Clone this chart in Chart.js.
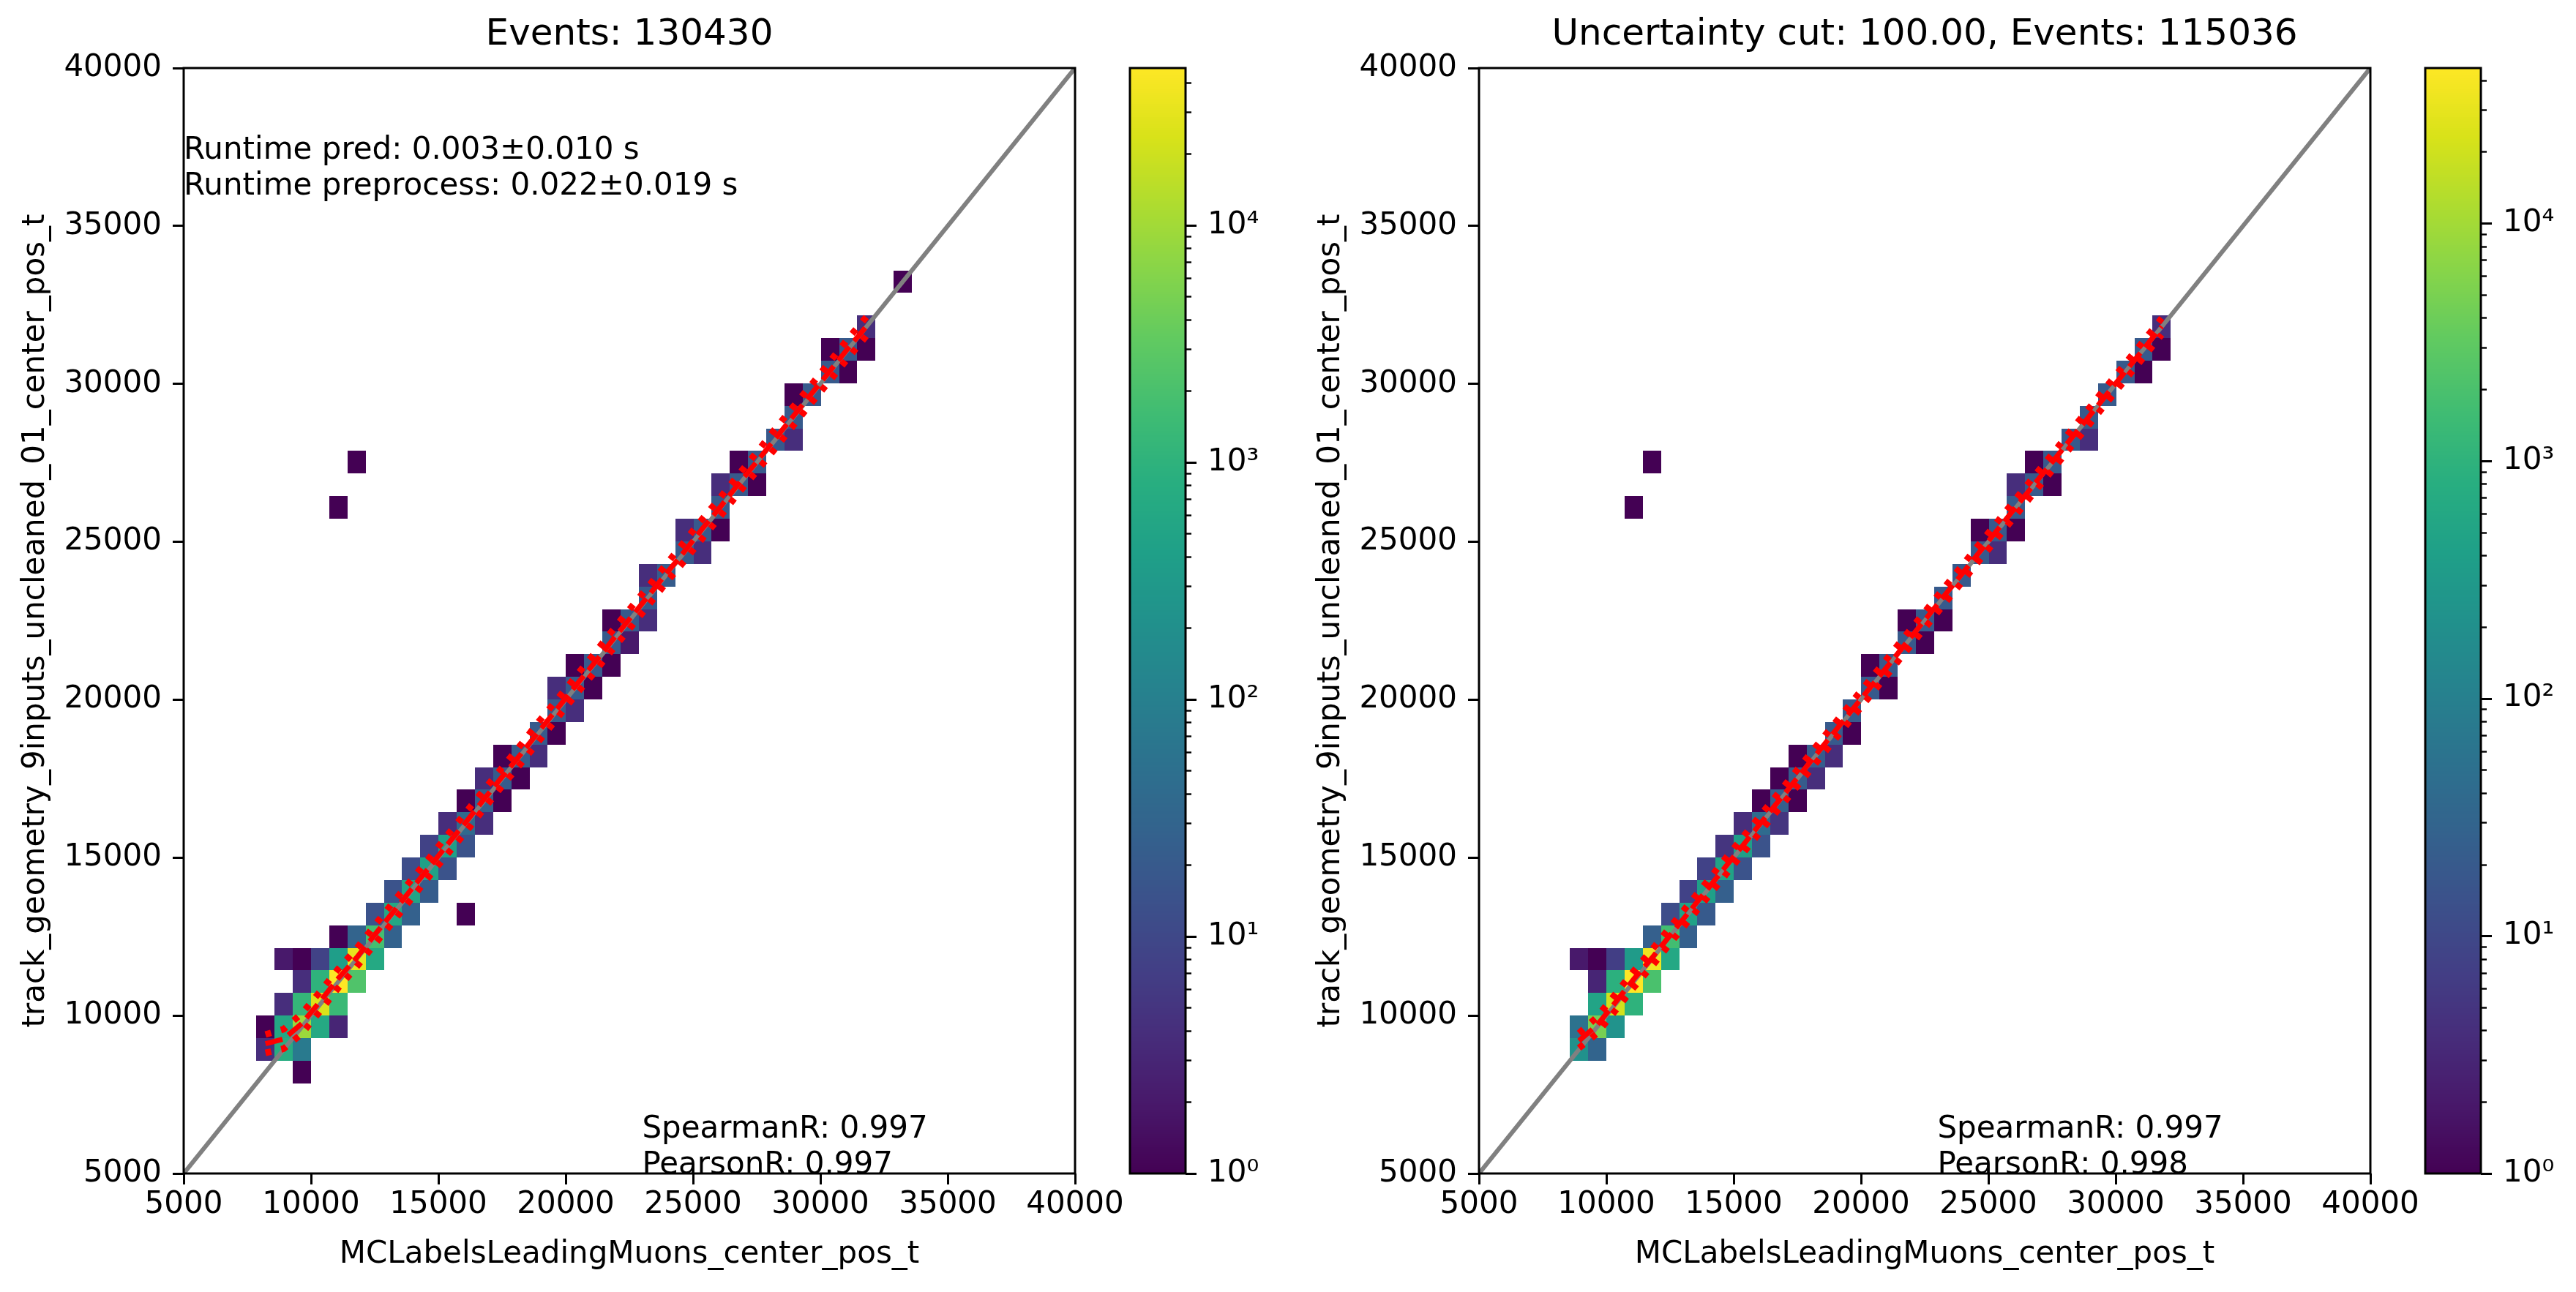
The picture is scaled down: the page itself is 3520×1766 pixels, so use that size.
<!DOCTYPE html>
<html>
<head>
<meta charset="utf-8">
<script src="https://cdn.jsdelivr.net/npm/chart.js@4.4.1/dist/chart.umd.min.js"></script>
<style>
  html, body { margin: 0; padding: 0; background: #fff; }
  #wrap { position: relative; width: 3520px; height: 1766px; overflow: hidden; background: #fff; }
  canvas { position: absolute; top: 0; }
</style>
</head>
<body>
<div id="wrap">
  <canvas id="leftHist" width="1540" height="1766" style="left:0px"></canvas>
  <canvas id="leftBar" width="300" height="1766" style="left:1500px"></canvas>
  <canvas id="rightHist" width="1540" height="1766" style="left:1770px"></canvas>
  <canvas id="rightBar" width="250" height="1766" style="left:3270px"></canvas>
</div>
<script>
// histogram binning (same edges on both axes)
const binStart = 7855;
const binWidth = 715;

const axisTickValues = [5000, 10000, 15000, 20000, 25000, 30000, 35000, 40000];
const colorbarTickValues = [1, 10, 100, 1000, 10000];
const colorbarTickLabels = ['10⁰', '10¹', '10²', '10³', '10⁴'];

const leftTitle = 'Events: 130430';
const rightTitle = 'Uncertainty cut: 100.00, Events: 115036';
const xLabel = 'MCLabelsLeadingMuons_center_pos_t';
const yLabel = 'track_geometry_9inputs_uncleaned_01_center_pos_t';
const leftRuntimeText = ['Runtime pred: 0.003±0.010 s', 'Runtime preprocess: 0.022±0.019 s'];
const leftStatsText = ['SpearmanR: 0.997', 'PearsonR: 0.997'];
const rightStatsText = ['SpearmanR: 0.997', 'PearsonR: 0.998'];

// left histogram: bin index x, bin index y, count
const leftCellI = [
  2,  0, 1, 2,  0, 1, 2, 3, 4,  1, 2, 3, 4,  2, 3, 4, 5,  1, 2, 3, 4, 5, 6,
  4, 5, 6, 7,  6, 7, 8, 11,  7, 8, 9,  8, 9, 10,  9, 10, 11,  10, 11, 12,
  11, 12, 13,  12, 13, 14,  13, 14, 15,  15, 16,  16, 17,  16, 17, 18,  17, 18, 19,
  19, 20,  19, 20, 21,  21,  21, 22,  23, 24,  23, 24, 25,  25,  25, 26, 27,
  26, 27,  28, 29,  29,  29, 30,  31, 32,  31, 32, 33,  33,  35,  4,  5
];
const leftCellJ = [
  0,  1, 1, 1,  2, 2, 2, 2, 2,  3, 3, 3, 3,  4, 4, 4, 4,  5, 5, 5, 5, 5, 5,
  6, 6, 6, 6,  7, 7, 7, 7,  8, 8, 8,  9, 9, 9,  10, 10, 10,  11, 11, 11,
  12, 12, 12,  13, 13, 13,  14, 14, 14,  15, 15,  16, 16,  17, 17, 17,  18, 18, 18,
  19, 19,  20, 20, 20,  21,  22, 22,  23, 23,  24, 24, 24,  25,  26, 26, 26,
  27, 27,  28, 28,  29,  30, 30,  31, 31,  32, 32, 32,  33,  35,  25,  27
];
const leftCellCount = [
  1,  4, 750, 80,  1, 600, 9000, 650, 3,  4, 1200, 25000, 1400,  4, 1000, 46000, 2300,  2, 1, 8, 380, 31000, 650,
  1, 30, 1800, 28,  15, 600, 26, 1,  15, 500, 22,  12, 450, 15,  8, 420, 15,  4, 40, 4,
  1, 25, 1,  4, 22, 1,  1, 22, 4,  20, 1,  20, 4,  4, 20, 1,  1, 20, 1,
  20, 2,  1, 20, 4,  20,  4, 22,  20, 4,  4, 20, 1,  20,  4, 20, 1,
  1, 20,  20, 4,  20,  1, 20,  20, 1,  1, 20, 1,  4,  1,  1,  1
];
const leftColorMax = 46000;

// right histogram (after uncertainty cut)
const rightCellI = [
  1, 2,  1, 2, 3,  2, 3, 4,  2, 3, 4, 5,  1, 2, 3, 4, 5, 6,  5, 6, 7,  6, 7, 8,
  7, 8, 9,  8, 9, 10,  9, 10, 11,  10, 11, 12,  11, 12, 13,  12, 13, 14,  13, 14, 15,
  15, 16,  16,  17, 18,  17, 18,  19, 20,  19, 20, 21,  21,  22,  23, 24,  23, 24, 25,
  25,  25, 26, 27,  26, 27,  28, 29,  29,  30,  31, 32,  32, 33,  33,  4,  5
];
const rightCellJ = [
  1, 1,  2, 2, 2,  3, 3, 3,  4, 4, 4, 4,  5, 5, 5, 5, 5, 5,  6, 6, 6,  7, 7, 7,
  8, 8, 8,  9, 9, 9,  10, 10, 10,  11, 11, 11,  12, 12, 12,  13, 13, 13,  14, 14, 14,
  15, 15,  16,  17, 17,  18, 18,  19, 19,  20, 20, 20,  21,  22,  23, 23,  24, 24, 24,
  25,  26, 26, 26,  27, 27,  28, 28,  29,  30,  31, 31,  32, 32,  33,  25,  27
];
const rightCellCount = [
  214, 30,  56, 4800, 230,  500, 21000, 1000,  3, 900, 45000, 2000,  2, 1, 7, 330, 35000, 600,  25, 1700, 25,  12, 450, 20,
  8, 420, 25,  8, 480, 15,  5, 400, 15,  4, 40, 5,  1, 25, 1,  1, 22, 4,  1, 22, 4,
  20, 1,  20,  20, 1,  1, 20,  20, 1,  1, 20, 1,  20,  20,  20, 4,  1, 20, 1,
  20,  4, 20, 1,  1, 20,  20, 4,  20,  20,  20, 1,  20, 1,  4,  1,  1
];
const rightColorMax = 45000;

// profile of the prediction per true-value bin
const leftProfileX = [8212, 8927, 9642, 10357, 11072, 11787, 12502, 13217, 13932, 14647, 15362, 16077, 16792, 17507, 18222, 18937, 19652,
  20367, 21082, 21797, 22512, 23227, 23942, 24657, 25372, 26087, 26802, 27517, 28232, 28947, 29662, 30377, 31092, 31807];
const leftProfileMean = [9110, 9260, 9750, 10450, 11180, 11830, 12560, 13270, 13990, 14700, 15420, 16120, 16850, 17560, 18260, 18990, 19700,
  20420, 21120, 21850, 22560, 23270, 23990, 24690, 25420, 26120, 26850, 27550, 28270, 28990, 29700, 30410, 31130, 31820];
const leftProfileUpper = [9400, 9570, 10070, 10760, 11480, 12120, 12860, 13580, 14290, 14990, 15720, 16430, 17150, 17850, 18560, 19300, 20000,
  20710, 21420, 22150, 22870, 23570, 24280, 25000, 25730, 26420, 27140, 27850, 28580, 29290, 29990, 30710, 31440, 32120];
const leftProfileLower = [8820, 8950, 9430, 10140, 10880, 11540, 12260, 12960, 13690, 14410, 15120, 15810, 16550, 17270, 17960, 18680, 19400,
  20130, 20820, 21550, 22250, 22970, 23700, 24390, 25110, 25820, 26560, 27250, 27960, 28690, 29410, 30110, 30820, 31520];

const rightProfileX = [8927, 9642, 10357, 11072, 11787, 12502, 13217, 13932, 14647, 15362, 16077, 16792, 17507, 18222, 18937, 19652,
  20367, 21082, 21797, 22512, 23227, 23942, 24657, 25372, 26087, 26802, 27517, 28232, 28947, 29662, 30377, 31092, 31807];
const rightProfileMean = [9200, 9700, 10420, 11150, 11820, 12540, 13250, 13960, 14680, 15390, 16110, 16820, 17530, 18250, 18960, 19680,
  20390, 21100, 21820, 22530, 23250, 23960, 24680, 25390, 26110, 26820, 27530, 28250, 28960, 29680, 30390, 31100, 31820];
const rightProfileUpper = [9440, 9960, 10680, 11410, 12080, 12800, 13510, 14220, 14940, 15650, 16370, 17080, 17790, 18510, 19220, 19940,
  20650, 21360, 22080, 22790, 23510, 24220, 24940, 25650, 26370, 27080, 27790, 28510, 29220, 29940, 30650, 31360, 32080];
const rightProfileLower = [8970, 9440, 10160, 10890, 11560, 12280, 12990, 13700, 14420, 15130, 15850, 16560, 17270, 17990, 18700, 19420,
  20130, 20840, 21560, 22270, 22990, 23700, 24420, 25130, 25850, 26560, 27270, 27990, 28700, 29420, 30130, 30840, 31560];

const FONT = 'DejaVu Sans';
Chart.defaults.font.family = FONT;
Chart.defaults.color = '#000';
Chart.defaults.animation = false;

const viridisStops = [[68,1,84],[72,24,106],[71,45,123],[66,64,134],[59,82,139],[51,99,141],[44,114,142],[38,130,142],
  [33,145,140],[31,160,136],[40,174,128],[63,188,115],[94,201,98],[132,212,75],[173,220,48],[216,226,25],[253,231,37]];

function viridis(t) {
  t = Math.min(1, Math.max(0, t));
  const p = t * (viridisStops.length - 1);
  const k = Math.min(Math.floor(p), viridisStops.length - 2);
  const f = p - k;
  const a = viridisStops[k], b = viridisStops[k + 1];
  const c = a.map((v, n) => Math.round(v + (b[n] - v) * f));
  return `rgb(${c[0]},${c[1]},${c[2]})`;
}

function xy(xs, ys) {
  return xs.map((x, k) => ({x: x, y: ys[k]}));
}

const heatmapPlugin = {
  id: 'heatmap',
  beforeDatasetsDraw(chart, args, opts) {
    const {ctx, chartArea} = chart;
    const xs = chart.scales.x, ys = chart.scales.y;
    ctx.save();
    ctx.beginPath();
    ctx.rect(chartArea.left, chartArea.top, chartArea.width, chartArea.height);
    ctx.clip();
    const top = Math.log10(opts.vmax);
    opts.cellI.forEach((bi, k) => {
      const x0 = binStart + bi * binWidth;
      const y0 = binStart + opts.cellJ[k] * binWidth;
      const px0 = Math.round(xs.getPixelForValue(x0));
      const px1 = Math.round(xs.getPixelForValue(x0 + binWidth));
      const py0 = Math.round(ys.getPixelForValue(y0));
      const py1 = Math.round(ys.getPixelForValue(y0 + binWidth));
      ctx.fillStyle = viridis(Math.log10(opts.counts[k]) / top);
      ctx.fillRect(px0, py1, px1 - px0, py0 - py1);
    });
    ctx.restore();
  },
  afterDatasetsDraw(chart, args, opts) {
    const {ctx, chartArea} = chart;
    const xs = chart.scales.x, ys = chart.scales.y;
    ctx.save();
    ctx.strokeStyle = '#000';
    ctx.lineWidth = 3;
    ctx.strokeRect(chartArea.left, chartArea.top, chartArea.width, chartArea.height);
    ctx.fillStyle = '#000';
    ctx.font = '42px "' + FONT + '"';
    ctx.textAlign = 'left';
    ctx.textBaseline = 'alphabetic';
    const lh = 49;
    if (opts.topText) {
      const tx = xs.getPixelForValue(opts.topTextAt[0]);
      const ty = ys.getPixelForValue(opts.topTextAt[1]);
      opts.topText.forEach((s, k) => ctx.fillText(s, tx, ty - (opts.topText.length - 1 - k) * lh));
    }
    const bx = xs.getPixelForValue(opts.bottomTextAt[0]);
    const by = ys.getPixelForValue(opts.bottomTextAt[1]);
    opts.bottomText.forEach((s, k) => ctx.fillText(s, bx, by - (opts.bottomText.length - 1 - k) * lh));
    ctx.restore();
  }
};

function histChart(id, title, cellI, cellJ, counts, vmax, profX, mean, upper, lower, topText, bottomText) {
  const ctx = document.getElementById(id).getContext('2d');
  return new Chart(ctx, {
    type: 'scatter',
    data: {
      datasets: [
        {
          data: xy(profX, mean), showLine: true, borderColor: 'red', borderWidth: 7,
          borderDash: [24, 10], pointRadius: 0, tension: 0, order: 1
        },
        {
          data: xy(profX, upper), showLine: true, borderColor: 'red', borderWidth: 9,
          borderDash: [8, 14], borderCapStyle: 'butt', pointRadius: 0, tension: 0, order: 2
        },
        {
          data: xy(profX, lower), showLine: true, borderColor: 'red', borderWidth: 9,
          borderDash: [8, 14], borderCapStyle: 'butt', pointRadius: 0, tension: 0, order: 2
        },
        {
          data: xy([5000, 40000], [5000, 40000]), showLine: true, borderColor: '#808080', borderWidth: 6,
          pointRadius: 0, order: 5
        }
      ]
    },
    options: {
      responsive: false,
      animation: false,
      layout: { padding: { left: 0, top: 0, right: 71, bottom: 0 } },
      plugins: {
        legend: { display: false },
        tooltip: { enabled: false },
        title: {
          display: true, text: title, fullSize: false,
          font: { size: 50, weight: 'normal', family: FONT },
          padding: { top: 18, bottom: 15 }
        },
        heatmap: {
          cellI: cellI, cellJ: cellJ, counts: counts, vmax: vmax,
          topText: topText, topTextAt: [5000, 36000],
          bottomText: bottomText, bottomTextAt: [23000, 5000]
        }
      },
      scales: {
        x: {
          type: 'linear', min: 5000, max: 40000,
          afterBuildTicks: s => { s.ticks = axisTickValues.map(v => ({value: v})); },
          afterFit: s => { s.height = 162; s.paddingLeft = 0; s.paddingRight = 0; },
          ticks: { font: { size: 42 }, padding: 3, maxRotation: 0, autoSkip: false, callback: v => String(v) },
          grid: { drawOnChartArea: false, drawTicks: true, tickLength: 15, tickWidth: 3, tickColor: '#000' },
          border: { display: false },
          title: { display: true, text: xLabel, font: { size: 42 }, padding: { top: 0, bottom: 26 } }
        },
        y: {
          type: 'linear', min: 5000, max: 40000,
          afterBuildTicks: s => { s.ticks = axisTickValues.map(v => ({value: v})); },
          afterFit: s => { s.width = 251; s.paddingTop = 0; s.paddingBottom = 0; },
          ticks: { font: { size: 42 }, padding: 15, autoSkip: false, callback: v => String(v) },
          grid: { drawOnChartArea: false, drawTicks: true, tickLength: 15, tickWidth: 3, tickColor: '#000' },
          border: { display: false },
          title: { display: true, text: yLabel, font: { size: 42 }, padding: { top: 24, bottom: 0 } }
        }
      }
    },
    plugins: [heatmapPlugin]
  });
}

const colorbarPlugin = {
  id: 'colorbar',
  beforeDatasetsDraw(chart, args, opts) {
    const {ctx, chartArea} = chart;
    const ys = chart.scales.y;
    const top = Math.log10(opts.vmax);
    const steps = 500;
    ctx.save();
    for (let s = 0; s < steps; s++) {
      const p0 = ys.getPixelForValue(Math.pow(10, top * s / steps));
      const p1 = ys.getPixelForValue(Math.pow(10, top * (s + 1) / steps));
      ctx.fillStyle = viridis((s + 0.5) / steps);
      ctx.fillRect(chartArea.left, Math.floor(p1), chartArea.width, Math.ceil(p0) - Math.floor(p1));
    }
    ctx.strokeStyle = '#000';
    ys.ticks.forEach(t => {
      const v = t.value;
      const m = v / Math.pow(10, Math.floor(Math.log10(v) + 1e-9));
      if (Math.abs(m - Math.round(m)) > 1e-6 || v > opts.vmax) return;
      const major = Math.abs(m - 1) < 1e-6;
      const py = Math.round(ys.getPixelForValue(v)) + 0.5;
      ctx.lineWidth = major ? 3 : 2.4;
      ctx.beginPath();
      ctx.moveTo(chartArea.right, py);
      ctx.lineTo(chartArea.right + (major ? 15 : 8), py);
      ctx.stroke();
    });
    ctx.lineWidth = 3;
    ctx.strokeRect(chartArea.left, chartArea.top, chartArea.width, chartArea.height);
    ctx.restore();
  }
};

function colorbarChart(id, vmax, axisWidth) {
  const ctx = document.getElementById(id).getContext('2d');
  return new Chart(ctx, {
    type: 'scatter',
    data: { datasets: [] },
    options: {
      responsive: false,
      animation: false,
      layout: { padding: { left: 44, top: 93, right: 0, bottom: 162 } },
      plugins: {
        legend: { display: false },
        tooltip: { enabled: false },
        colorbar: { vmax: vmax }
      },
      scales: {
        x: { display: false, min: 0, max: 1 },
        y: {
          type: 'logarithmic', position: 'right', min: 1, max: vmax,
          afterFit: s => { s.width = axisWidth; s.paddingTop = 0; s.paddingBottom = 0; },
          ticks: {
            font: { size: 42 }, padding: 15, autoSkip: false,
            callback: v => {
              const k = colorbarTickValues.findIndex(t => Math.abs(v - t) / t < 1e-6);
              return k >= 0 ? colorbarTickLabels[k] : '';
            }
          },
          grid: { drawOnChartArea: false, drawTicks: true, tickLength: 15, tickColor: 'rgba(0,0,0,0)' },
          border: { display: false }
        }
      }
    },
    plugins: [colorbarPlugin]
  });
}

histChart('leftHist', leftTitle, leftCellI, leftCellJ, leftCellCount, leftColorMax,
  leftProfileX, leftProfileMean, leftProfileUpper, leftProfileLower, leftRuntimeText, leftStatsText);
colorbarChart('leftBar', leftColorMax, 180);
histChart('rightHist', rightTitle, rightCellI, rightCellJ, rightCellCount, rightColorMax,
  rightProfileX, rightProfileMean, rightProfileUpper, rightProfileLower, null, rightStatsText);
colorbarChart('rightBar', rightColorMax, 130);
</script>
</body>
</html>
